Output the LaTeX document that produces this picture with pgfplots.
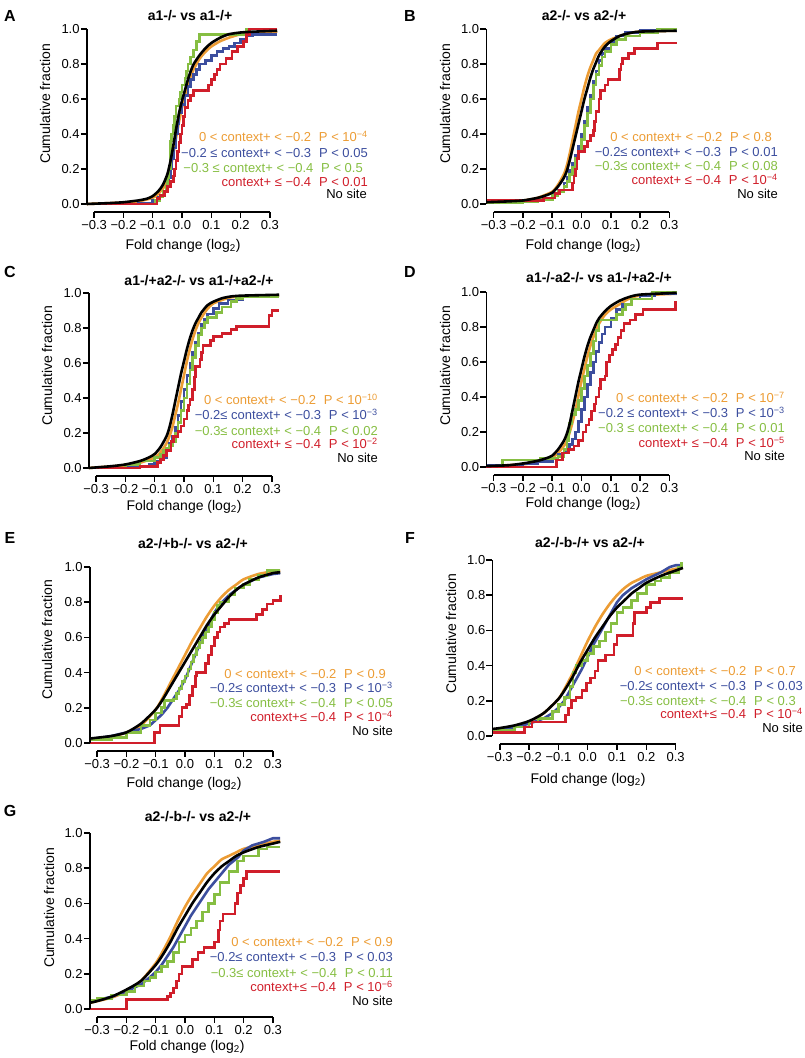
\documentclass[border=0pt]{standalone}
\usepackage{fontspec}
\setmainfont{Liberation Sans}
\usepackage{pgfplots}
\pgfplotsset{compat=1.18}

\definecolor{cOr}{RGB}{236,156,52}
\definecolor{cBl}{RGB}{60,78,158}
\definecolor{cGr}{RGB}{134,190,66}
\definecolor{cRd}{RGB}{208,30,42}

\newcommand\tkf{\fontsize{13}{15}\selectfont}
\newcommand\ttf{\fontsize{14}{16}\selectfont\bfseries}

% placement helpers, image coords (y down, px = pt)
\newcommand\leg[4]{\node[anchor=base east, text=#1, font=\tkf, inner sep=0pt] at (#2pt,{1058pt-#3pt-4.7pt}) {#4};}
\newcommand\ttl[3]{\node[font=\ttf] at (#1pt,{1058pt-#2pt}) {#3};}
\newcommand\letter[3]{\node[font=\fontsize{16}{18}\selectfont\bfseries] at (#1pt,{1058pt-#2pt}) {#3};}
\newcommand\ylab[2]{\node[rotate=90, font=\fontsize{14}{16}\selectfont] at (#1pt,{1058pt-#2pt}) {Cumulative fraction};}
\newcommand\xlab[2]{\node[font=\fontsize{14}{16}\selectfont] at (#1pt,{1058pt-#2pt}) {Fold change (log\textsubscript{2})};}
\newcommand\axlines{%
  \draw[line width=1.5pt] (axis cs:-0.3,-0.045) -- (axis cs:0.3,-0.045);
  \draw[line width=1.5pt] (axis cs:-0.325,0) -- (axis cs:-0.325,1);}

\pgfplotsset{
  panel/.style={
    x=293pt, y=175pt,
    xmin=-0.325, xmax=0.325, ymin=-0.045, ymax=1,
    anchor=origin,
    axis x line*=bottom, axis y line*=left,
    axis line style={draw=none},
    tick align=outside,
    major tick length=6pt,
    tick style={black, line width=1.5pt},
    xtick={-0.3,-0.2,-0.1,0,0.1,0.2,0.3},
    xticklabels={−0.3,−0.2,−0.1,0.0,0.1,0.2,0.3},
    ytick={0,0.2,0.4,0.6,0.8,1},
    yticklabels={0.0,0.2,0.4,0.6,0.8,1.0},
    tick label style={font=\tkf},
    xticklabel style={inner ysep=2.5pt},
    yticklabel style={inner xsep=1pt},
    clip=false,
    every axis plot/.append style={line width=2.6pt},
  },
  curve/.style={smooth, tension=0.4},
  steps/.style={const plot},
}

\begin{document}
\begin{tikzpicture}
\useasboundingbox (0,0) rectangle (805pt,1058pt);

% ---------------- A ----------------
\begin{axis}[panel, at={(182pt,854pt)}]
\addplot[cOr, curve] coordinates {(-0.325,0.0) (-0.2,0.008) (-0.15,0.015) (-0.1,0.035) (-0.08,0.06) (-0.06,0.1) (-0.05,0.14) (-0.04,0.2) (-0.03,0.28) (-0.02,0.38) (-0.01,0.47) (0.0,0.55) (0.01,0.62) (0.02,0.68) (0.03,0.73) (0.04,0.77) (0.06,0.83) (0.08,0.87) (0.1,0.9) (0.13,0.93) (0.16,0.95) (0.2,0.97) (0.25,0.98) (0.325,0.985)};
\addplot[cBl, steps] coordinates {(-0.325,0) (-0.15,0.005) (-0.1,0.02) (-0.08,0.04) (-0.065,0.07) (-0.055,0.1) (-0.045,0.15) (-0.04,0.2) (-0.035,0.26) (-0.03,0.32) (-0.02,0.4) (-0.015,0.46) (-0.01,0.52) (0.0,0.57) (0.01,0.62) (0.02,0.67) (0.03,0.71) (0.04,0.74) (0.05,0.77) (0.06,0.8) (0.08,0.82) (0.1,0.85) (0.12,0.87) (0.14,0.89) (0.16,0.9) (0.18,0.92) (0.2,0.94) (0.22,0.96) (0.24,0.97) (0.325,0.97)};
\addplot[cGr, steps] coordinates {(-0.325,0) (-0.09,0.02) (-0.075,0.04) (-0.065,0.07) (-0.055,0.1) (-0.05,0.15) (-0.045,0.2) (-0.04,0.36) (-0.035,0.4) (-0.03,0.45) (-0.025,0.5) (-0.02,0.56) (-0.01,0.6) (-0.005,0.64) (0.0,0.68) (0.01,0.72) (0.015,0.76) (0.02,0.8) (0.03,0.84) (0.04,0.88) (0.05,0.93) (0.06,0.97) (0.22,1.0) (0.325,1.0)};
\addplot[cRd, steps] coordinates {(-0.325,0) (-0.085,0.03) (-0.075,0.05) (-0.06,0.07) (-0.05,0.1) (-0.04,0.13) (-0.03,0.16) (-0.025,0.2) (-0.02,0.25) (-0.015,0.3) (-0.01,0.35) (-0.005,0.4) (0.0,0.45) (0.005,0.5) (0.01,0.55) (0.02,0.59) (0.03,0.62) (0.04,0.65) (0.09,0.68) (0.1,0.71) (0.11,0.74) (0.12,0.77) (0.13,0.8) (0.15,0.83) (0.17,0.87) (0.19,0.9) (0.21,0.93) (0.22,0.97) (0.23,1.0) (0.325,1.0)};
\addplot[black, curve] coordinates {(-0.325,0.0) (-0.25,0.005) (-0.2,0.01) (-0.15,0.02) (-0.12,0.03) (-0.1,0.045) (-0.08,0.075) (-0.065,0.11) (-0.05,0.17) (-0.04,0.24) (-0.03,0.33) (-0.02,0.43) (-0.01,0.52) (0.0,0.59) (0.01,0.65) (0.02,0.71) (0.03,0.76) (0.04,0.8) (0.06,0.85) (0.08,0.89) (0.1,0.92) (0.13,0.95) (0.16,0.97) (0.2,0.98) (0.25,0.985) (0.325,0.99)};
\axlines
\end{axis}

% ---------------- B ----------------
\begin{axis}[panel, at={(581.5pt,854pt)}]
\addplot[cOr, curve] coordinates {(-0.325,0.01) (-0.2,0.02) (-0.15,0.035) (-0.1,0.07) (-0.08,0.11) (-0.06,0.17) (-0.05,0.22) (-0.04,0.29) (-0.03,0.37) (-0.02,0.45) (-0.01,0.53) (0.0,0.6) (0.01,0.67) (0.02,0.73) (0.03,0.78) (0.04,0.82) (0.05,0.86) (0.06,0.88) (0.08,0.92) (0.1,0.94) (0.13,0.96) (0.16,0.975) (0.2,0.985) (0.325,0.99)};
\addplot[cBl, steps] coordinates {(-0.325,0.015) (-0.2,0.02) (-0.15,0.03) (-0.1,0.06) (-0.08,0.08) (-0.06,0.12) (-0.05,0.15) (-0.04,0.19) (-0.03,0.23) (-0.02,0.28) (-0.01,0.33) (0.0,0.4) (0.01,0.47) (0.02,0.55) (0.03,0.62) (0.04,0.7) (0.05,0.76) (0.06,0.82) (0.07,0.86) (0.08,0.89) (0.1,0.93) (0.12,0.96) (0.15,0.98) (0.2,0.99) (0.325,0.99)};
\addplot[cGr, steps] coordinates {(-0.325,0.005) (-0.25,0.01) (-0.2,0.015) (-0.15,0.025) (-0.1,0.05) (-0.08,0.07) (-0.06,0.1) (-0.05,0.13) (-0.04,0.17) (-0.03,0.21) (-0.02,0.26) (-0.01,0.3) (0.0,0.37) (0.01,0.45) (0.02,0.52) (0.03,0.6) (0.04,0.68) (0.05,0.74) (0.06,0.79) (0.07,0.84) (0.08,0.87) (0.1,0.91) (0.12,0.94) (0.15,0.96) (0.2,0.98) (0.26,1.0) (0.325,1.0)};
\addplot[cRd, steps] coordinates {(-0.325,0.02) (-0.13,0.035) (-0.09,0.06) (-0.075,0.08) (-0.03,0.12) (-0.025,0.16) (-0.02,0.2) (-0.015,0.26) (-0.01,0.3) (0.01,0.33) (0.02,0.36) (0.03,0.39) (0.04,0.42) (0.045,0.47) (0.05,0.53) (0.06,0.6) (0.065,0.65) (0.08,0.68) (0.09,0.71) (0.13,0.77) (0.135,0.8) (0.14,0.83) (0.16,0.86) (0.18,0.89) (0.26,0.92) (0.325,0.92)};
\addplot[black, curve] coordinates {(-0.325,0.01) (-0.25,0.015) (-0.2,0.02) (-0.15,0.035) (-0.12,0.05) (-0.1,0.065) (-0.08,0.1) (-0.06,0.15) (-0.05,0.19) (-0.04,0.25) (-0.03,0.32) (-0.02,0.39) (-0.01,0.46) (0.0,0.53) (0.01,0.6) (0.02,0.66) (0.03,0.72) (0.04,0.77) (0.05,0.81) (0.06,0.85) (0.08,0.9) (0.1,0.93) (0.13,0.96) (0.16,0.975) (0.2,0.985) (0.325,0.99)};
\axlines
\end{axis}

% ---------------- C ----------------
\begin{axis}[panel, at={(184pt,590pt)}]
\addplot[cOr, curve] coordinates {(-0.325,0.0) (-0.2,0.015) (-0.15,0.03) (-0.1,0.06) (-0.08,0.09) (-0.06,0.14) (-0.05,0.18) (-0.04,0.23) (-0.03,0.3) (-0.02,0.37) (-0.01,0.45) (0.0,0.53) (0.01,0.61) (0.02,0.68) (0.03,0.74) (0.04,0.79) (0.05,0.83) (0.06,0.86) (0.08,0.91) (0.1,0.94) (0.13,0.96) (0.16,0.975) (0.2,0.98) (0.325,0.985)};
\addplot[cBl, steps] coordinates {(-0.325,0.0) (-0.2,0.005) (-0.15,0.01) (-0.12,0.02) (-0.1,0.04) (-0.08,0.06) (-0.06,0.1) (-0.05,0.14) (-0.04,0.18) (-0.03,0.23) (-0.02,0.3) (-0.01,0.38) (0.0,0.45) (0.01,0.53) (0.02,0.6) (0.03,0.66) (0.04,0.72) (0.05,0.77) (0.06,0.82) (0.07,0.85) (0.08,0.88) (0.1,0.91) (0.12,0.94) (0.15,0.96) (0.2,0.98) (0.325,0.98)};
\addplot[cGr, steps] coordinates {(-0.325,0.0) (-0.2,0.02) (-0.15,0.04) (-0.1,0.06) (-0.08,0.08) (-0.07,0.1) (-0.06,0.11) (-0.05,0.13) (-0.04,0.15) (-0.03,0.2) (-0.02,0.26) (-0.01,0.33) (0.0,0.4) (0.01,0.48) (0.02,0.56) (0.03,0.63) (0.04,0.7) (0.05,0.76) (0.06,0.8) (0.07,0.83) (0.08,0.86) (0.11,0.89) (0.13,0.92) (0.16,0.95) (0.18,0.97) (0.2,0.98) (0.325,0.98)};
\addplot[cRd, steps] coordinates {(-0.325,0.0) (-0.15,0.01) (-0.09,0.03) (-0.08,0.05) (-0.07,0.07) (-0.06,0.1) (-0.045,0.15) (-0.035,0.18) (-0.02,0.21) (-0.01,0.24) (0.0,0.28) (0.01,0.33) (0.015,0.36) (0.02,0.39) (0.03,0.45) (0.035,0.52) (0.04,0.58) (0.055,0.62) (0.06,0.66) (0.065,0.7) (0.09,0.73) (0.1,0.75) (0.13,0.77) (0.16,0.79) (0.18,0.81) (0.29,0.87) (0.3,0.9) (0.325,0.9)};
\addplot[black, curve] coordinates {(-0.325,0.0) (-0.25,0.01) (-0.2,0.02) (-0.15,0.04) (-0.12,0.06) (-0.1,0.08) (-0.08,0.12) (-0.06,0.18) (-0.05,0.23) (-0.04,0.3) (-0.03,0.38) (-0.02,0.46) (-0.01,0.54) (0.0,0.61) (0.01,0.68) (0.02,0.74) (0.03,0.79) (0.04,0.83) (0.05,0.86) (0.06,0.89) (0.08,0.93) (0.1,0.95) (0.13,0.97) (0.16,0.98) (0.2,0.985) (0.325,0.99)};
\axlines
\end{axis}

% ---------------- D ----------------
\begin{axis}[panel, at={(581.5pt,591pt)}]
\addplot[cOr, curve] coordinates {(-0.325,0.005) (-0.2,0.015) (-0.15,0.03) (-0.1,0.055) (-0.08,0.08) (-0.06,0.12) (-0.05,0.15) (-0.04,0.2) (-0.03,0.26) (-0.02,0.33) (-0.01,0.41) (0.0,0.49) (0.01,0.56) (0.02,0.63) (0.03,0.69) (0.04,0.74) (0.05,0.78) (0.06,0.82) (0.08,0.87) (0.1,0.9) (0.13,0.93) (0.16,0.96) (0.2,0.98) (0.325,0.99)};
\addplot[cBl, steps] coordinates {(-0.325,0.01) (-0.2,0.02) (-0.15,0.03) (-0.1,0.05) (-0.08,0.07) (-0.06,0.09) (-0.05,0.11) (-0.04,0.13) (-0.03,0.16) (-0.02,0.2) (-0.01,0.26) (0.0,0.33) (0.01,0.4) (0.02,0.47) (0.03,0.54) (0.04,0.6) (0.05,0.66) (0.06,0.71) (0.07,0.76) (0.08,0.8) (0.1,0.85) (0.12,0.9) (0.14,0.93) (0.17,0.96) (0.2,0.98) (0.25,0.99) (0.325,0.99)};
\addplot[cGr, steps] coordinates {(-0.325,0.0) (-0.27,0.04) (-0.14,0.05) (-0.08,0.06) (-0.06,0.1) (-0.05,0.15) (-0.045,0.2) (-0.04,0.25) (-0.035,0.3) (-0.02,0.33) (-0.01,0.38) (0.0,0.45) (0.01,0.52) (0.02,0.58) (0.03,0.65) (0.04,0.72) (0.05,0.78) (0.06,0.84) (0.12,0.87) (0.14,0.9) (0.15,0.93) (0.17,0.96) (0.24,1.0) (0.325,1.0)};
\addplot[cRd, steps] coordinates {(-0.325,0.0) (-0.085,0.04) (-0.065,0.08) (-0.045,0.1) (-0.025,0.12) (-0.01,0.15) (0.005,0.2) (0.015,0.24) (0.025,0.27) (0.035,0.32) (0.045,0.36) (0.05,0.4) (0.06,0.45) (0.065,0.5) (0.08,0.52) (0.085,0.6) (0.095,0.64) (0.105,0.67) (0.115,0.7) (0.125,0.74) (0.135,0.78) (0.145,0.82) (0.165,0.84) (0.185,0.87) (0.21,0.9) (0.32,0.94) (0.325,0.94)};
\addplot[black, curve] coordinates {(-0.325,0.005) (-0.25,0.01) (-0.2,0.02) (-0.15,0.035) (-0.12,0.05) (-0.1,0.065) (-0.08,0.1) (-0.06,0.15) (-0.05,0.19) (-0.04,0.25) (-0.03,0.33) (-0.02,0.41) (-0.01,0.49) (0.0,0.56) (0.01,0.63) (0.02,0.69) (0.03,0.74) (0.04,0.78) (0.05,0.82) (0.06,0.85) (0.08,0.89) (0.1,0.92) (0.13,0.95) (0.16,0.97) (0.2,0.985) (0.325,0.995)};
\axlines
\end{axis}

% ---------------- E ----------------
\begin{axis}[panel, y=176pt, at={(185pt,315pt)}]
\addplot[cOr, curve] coordinates {(-0.325,0.02) (-0.25,0.035) (-0.2,0.06) (-0.15,0.1) (-0.1,0.19) (-0.075,0.26) (-0.05,0.34) (-0.025,0.42) (0.0,0.5) (0.025,0.58) (0.05,0.65) (0.075,0.72) (0.1,0.78) (0.125,0.83) (0.15,0.87) (0.175,0.9) (0.2,0.93) (0.25,0.96) (0.3,0.975) (0.325,0.98)};
\addplot[cBl] coordinates {(-0.325,0.02) (-0.25,0.04) (-0.2,0.06) (-0.15,0.08) (-0.12,0.1) (-0.1,0.13) (-0.08,0.16) (-0.06,0.2) (-0.04,0.25) (-0.02,0.3) (0.0,0.36) (0.02,0.44) (0.04,0.52) (0.06,0.6) (0.08,0.67) (0.1,0.74) (0.12,0.79) (0.15,0.84) (0.2,0.9) (0.25,0.94) (0.3,0.96) (0.325,0.965)};
\addplot[cGr, steps] coordinates {(-0.325,0.02) (-0.25,0.03) (-0.2,0.06) (-0.15,0.1) (-0.12,0.13) (-0.1,0.17) (-0.08,0.2) (-0.07,0.24) (-0.04,0.25) (-0.03,0.28) (-0.02,0.31) (-0.01,0.35) (0.0,0.38) (0.01,0.42) (0.02,0.46) (0.03,0.5) (0.04,0.54) (0.05,0.57) (0.06,0.6) (0.07,0.63) (0.08,0.66) (0.09,0.7) (0.1,0.74) (0.11,0.78) (0.12,0.8) (0.15,0.84) (0.17,0.88) (0.2,0.9) (0.22,0.93) (0.25,0.95) (0.28,0.98) (0.325,0.98)};
\addplot[cRd, steps] coordinates {(-0.325,0.0) (-0.105,0.06) (-0.085,0.1) (-0.02,0.15) (-0.01,0.2) (0.005,0.22) (0.015,0.27) (0.025,0.32) (0.035,0.38) (0.04,0.4) (0.07,0.45) (0.08,0.5) (0.09,0.55) (0.1,0.6) (0.11,0.63) (0.12,0.66) (0.135,0.68) (0.15,0.7) (0.245,0.73) (0.265,0.76) (0.28,0.79) (0.3,0.81) (0.325,0.84)};
\addplot[black, curve] coordinates {(-0.325,0.025) (-0.3,0.03) (-0.25,0.04) (-0.2,0.06) (-0.15,0.11) (-0.1,0.19) (-0.075,0.25) (-0.05,0.32) (-0.025,0.39) (0.0,0.46) (0.025,0.53) (0.05,0.6) (0.075,0.67) (0.1,0.73) (0.125,0.78) (0.15,0.83) (0.175,0.87) (0.2,0.9) (0.25,0.94) (0.3,0.965) (0.325,0.97)};
\axlines
\end{axis}

% ---------------- F ----------------
\begin{axis}[panel, y=176pt, at={(587.7pt,322pt)}]
\addplot[cOr, curve] coordinates {(-0.325,0.035) (-0.25,0.055) (-0.2,0.08) (-0.15,0.13) (-0.1,0.21) (-0.075,0.28) (-0.05,0.36) (-0.025,0.45) (0.0,0.54) (0.025,0.62) (0.05,0.69) (0.075,0.75) (0.1,0.8) (0.125,0.84) (0.15,0.87) (0.175,0.89) (0.2,0.91) (0.25,0.93) (0.3,0.95) (0.325,0.955)};
\addplot[cBl] coordinates {(-0.325,0.03) (-0.25,0.05) (-0.2,0.07) (-0.15,0.1) (-0.12,0.13) (-0.1,0.16) (-0.08,0.2) (-0.06,0.26) (-0.04,0.32) (-0.02,0.38) (0.0,0.45) (0.02,0.52) (0.04,0.58) (0.06,0.64) (0.08,0.7) (0.1,0.76) (0.12,0.8) (0.15,0.84) (0.18,0.87) (0.2,0.89) (0.25,0.93) (0.28,0.96) (0.3,0.97) (0.325,0.97)};
\addplot[cGr, steps] coordinates {(-0.325,0.03) (-0.25,0.05) (-0.2,0.08) (-0.17,0.1) (-0.12,0.14) (-0.1,0.18) (-0.08,0.22) (-0.06,0.28) (-0.05,0.36) (-0.04,0.4) (-0.02,0.43) (0.0,0.47) (0.02,0.51) (0.04,0.54) (0.06,0.59) (0.08,0.64) (0.1,0.7) (0.12,0.73) (0.15,0.77) (0.17,0.81) (0.2,0.86) (0.23,0.88) (0.25,0.9) (0.28,0.93) (0.31,0.96) (0.32,0.98) (0.325,0.98)};
\addplot[cRd, steps] coordinates {(-0.325,0.02) (-0.215,0.05) (-0.19,0.08) (-0.075,0.12) (-0.065,0.16) (-0.055,0.2) (-0.04,0.22) (-0.02,0.26) (-0.005,0.3) (0.01,0.33) (0.025,0.37) (0.035,0.43) (0.06,0.46) (0.09,0.52) (0.1,0.57) (0.155,0.64) (0.16,0.7) (0.2,0.73) (0.215,0.76) (0.245,0.78) (0.325,0.78)};
\addplot[black, curve] coordinates {(-0.325,0.04) (-0.3,0.045) (-0.25,0.06) (-0.2,0.085) (-0.15,0.13) (-0.1,0.21) (-0.075,0.27) (-0.05,0.34) (-0.025,0.42) (0.0,0.49) (0.025,0.56) (0.05,0.62) (0.075,0.68) (0.1,0.73) (0.125,0.77) (0.15,0.81) (0.175,0.84) (0.2,0.87) (0.25,0.91) (0.3,0.94) (0.325,0.955)};
\axlines
\end{axis}

% ---------------- G ----------------
\begin{axis}[panel, y=176pt, at={(185pt,49pt)}]
\addplot[cOr, curve] coordinates {(-0.325,0.035) (-0.25,0.065) (-0.2,0.1) (-0.15,0.16) (-0.1,0.26) (-0.075,0.33) (-0.05,0.41) (-0.025,0.5) (0.0,0.58) (0.025,0.65) (0.05,0.71) (0.075,0.77) (0.1,0.81) (0.125,0.85) (0.15,0.87) (0.175,0.89) (0.2,0.91) (0.25,0.93) (0.3,0.95) (0.325,0.955)};
\addplot[cBl] coordinates {(-0.325,0.04) (-0.25,0.07) (-0.2,0.1) (-0.15,0.14) (-0.12,0.18) (-0.1,0.21) (-0.08,0.25) (-0.06,0.3) (-0.04,0.35) (-0.02,0.41) (0.0,0.47) (0.02,0.53) (0.04,0.58) (0.06,0.63) (0.08,0.68) (0.1,0.72) (0.12,0.76) (0.15,0.82) (0.18,0.86) (0.2,0.9) (0.23,0.93) (0.27,0.95) (0.3,0.97) (0.325,0.97)};
\addplot[cGr, steps] coordinates {(-0.325,0.05) (-0.3,0.06) (-0.25,0.08) (-0.2,0.1) (-0.17,0.13) (-0.14,0.16) (-0.12,0.18) (-0.1,0.21) (-0.08,0.24) (-0.06,0.27) (-0.04,0.32) (-0.02,0.38) (0.0,0.42) (0.02,0.46) (0.04,0.5) (0.06,0.55) (0.08,0.6) (0.1,0.65) (0.12,0.72) (0.15,0.78) (0.18,0.84) (0.2,0.87) (0.25,0.91) (0.28,0.92) (0.325,0.92)};
\addplot[cRd, steps] coordinates {(-0.325,0.0) (-0.2,0.055) (-0.06,0.07) (-0.05,0.09) (-0.04,0.12) (-0.03,0.16) (-0.02,0.2) (-0.01,0.24) (0.025,0.28) (0.045,0.32) (0.065,0.35) (0.1,0.38) (0.115,0.45) (0.12,0.5) (0.13,0.54) (0.17,0.6) (0.18,0.66) (0.19,0.7) (0.2,0.74) (0.21,0.78) (0.325,0.78)};
\addplot[black, curve] coordinates {(-0.325,0.035) (-0.3,0.045) (-0.25,0.07) (-0.2,0.11) (-0.15,0.16) (-0.1,0.25) (-0.075,0.31) (-0.05,0.38) (-0.025,0.46) (0.0,0.53) (0.025,0.6) (0.05,0.66) (0.075,0.72) (0.1,0.77) (0.125,0.81) (0.15,0.84) (0.175,0.87) (0.2,0.89) (0.25,0.92) (0.3,0.94) (0.325,0.95)};
\axlines
\end{axis}

% ---------------- letters, titles, labels ----------------
\letter{10}{16}{A} \letter{410}{16}{B}
\letter{10}{272}{C} \letter{410}{272}{D}
\letter{10}{538}{E} \letter{410}{538}{F}
\letter{10}{811}{G}

\ttl{190}{16}{a1-/- vs a1-/+}
\ttl{584}{16}{a2-/- vs a2-/+}
\ttl{199}{281}{a1-/+a2-/- vs a1-/+a2-/+}
\ttl{599}{278}{a1-/-a2-/- vs a1-/+a2-/+}
\ttl{193}{544}{a2-/+b-/- vs a2-/+}
\ttl{590}{543}{a2-/-b-/+ vs a2-/+}
\ttl{198}{817}{a2-/-b-/- vs a2-/+}

\ylab{45}{104} \ylab{445}{104}
\ylab{47}{366} \ylab{445}{366}
\ylab{47}{640} \ylab{451}{634}
\ylab{49}{908}

\xlab{183}{246} \xlab{583}{246}
\xlab{184}{507} \xlab{583}{504}
\xlab{184}{784} \xlab{588}{780}
\xlab{187}{1047}

% legends A
\leg{cOr}{368}{137}{0 < context+ < −0.2\hspace{0.6em}P < 10\textsuperscript{−4}}
\leg{cBl}{368}{153}{−0.2 ≤ context+ < −0.3\hspace{0.6em}P < 0.05}
\leg{cGr}{363}{168}{−0.3 ≤ context+ < −0.4\hspace{0.6em}P < 0.5}
\leg{cRd}{368}{182}{context+ ≤ −0.4\hspace{0.6em}P < 0.01}
\leg{black}{367}{194}{No site}
% legends B
\leg{cOr}{772}{137}{0 < context+ < −0.2\hspace{0.6em}P < 0.8}
\leg{cBl}{778}{152}{−0.2≤ context+ < −0.3\hspace{0.6em}P < 0.01}
\leg{cGr}{778}{166}{−0.3≤ context+ < −0.4\hspace{0.6em}P < 0.08}
\leg{cRd}{778}{180}{context+ ≤ −0.4\hspace{0.6em}P < 10\textsuperscript{−4}}
\leg{black}{778}{194}{No site}
% legends C
\leg{cOr}{378}{400}{0 < context+ < −0.2\hspace{0.6em}P < 10\textsuperscript{−10}}
\leg{cBl}{378}{415}{−0.2≤ context+ < −0.3\hspace{0.6em}P < 10\textsuperscript{−3}}
\leg{cGr}{378}{431}{−0.3≤ context+ < −0.4\hspace{0.6em}P < 0.02}
\leg{cRd}{378}{444}{context+ ≤ −0.4\hspace{0.6em}P < 10\textsuperscript{−2}}
\leg{black}{378}{458}{No site}
% legends D
\leg{cOr}{785}{398}{0 < context+ < −0.2\hspace{0.6em}P < 10\textsuperscript{−7}}
\leg{cBl}{785}{413}{−0.2 ≤ context+ < −0.3\hspace{0.6em}P < 10\textsuperscript{−3}}
\leg{cGr}{785}{428}{−0.3 ≤ context+ < −0.4\hspace{0.6em}P < 0.01}
\leg{cRd}{785}{443}{context+ ≤ −0.4\hspace{0.6em}P < 10\textsuperscript{−5}}
\leg{black}{785}{456}{No site}
% legends E
\leg{cOr}{386}{674}{0 < context+ < −0.2\hspace{0.6em}P < 0.9}
\leg{cBl}{393}{688}{−0.2≤ context+ < −0.3\hspace{0.6em}P < 10\textsuperscript{−3}}
\leg{cGr}{393}{703}{−0.3≤ context+ < −0.4\hspace{0.6em}P < 0.05}
\leg{cRd}{393}{717}{context+≤ −0.4\hspace{0.6em}P < 10\textsuperscript{−4}}
\leg{black}{393}{731}{No site}
% legends F
\leg{cOr}{796}{671}{0 < context+ < −0.2\hspace{0.6em}P < 0.7}
\leg{cBl}{803}{686}{−0.2≤ context+ < −0.3\hspace{0.6em}P < 0.03}
\leg{cGr}{796}{701}{−0.3≤ context+ < −0.4\hspace{0.6em}P < 0.3}
\leg{cRd}{803}{714}{context+≤ −0.4\hspace{0.6em}P < 10\textsuperscript{−4}}
\leg{black}{803}{728}{No site}
% legends G
\leg{cOr}{393}{942}{0 < context+ < −0.2\hspace{0.6em}P < 0.9}
\leg{cBl}{393}{957}{−0.2≤ context+ < −0.3\hspace{0.6em}P < 0.03}
\leg{cGr}{393}{973}{−0.3≤ context+ < −0.4\hspace{0.6em}P < 0.11}
\leg{cRd}{393}{987}{context+≤ −0.4\hspace{0.6em}P < 10\textsuperscript{−6}}
\leg{black}{393}{1001}{No site}

\end{tikzpicture}
\end{document}
